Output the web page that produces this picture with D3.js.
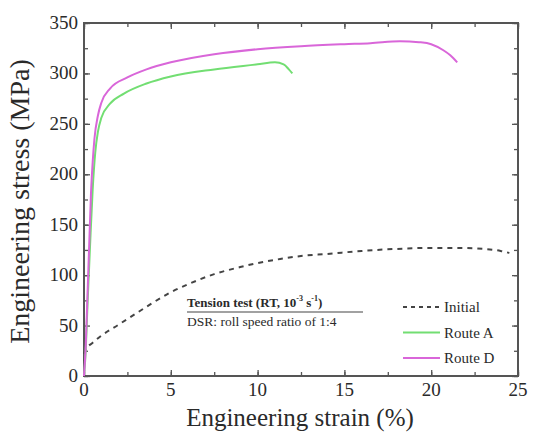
<!DOCTYPE html>
<html>
<head>
<meta charset="utf-8">
<script src="https://cdn.jsdelivr.net/npm/d3@7"></script>
<style>
  body { margin: 0; background: #fff; }
  svg { font-family: "Liberation Serif", "DejaVu Serif", serif; }
</style>
</head>
<body>
<div id="chart"></div>
<script>
// strain (%) / stress (MPa)
var initialStrain = [0, 0.1, 0.5, 1, 2, 3, 4, 5, 6, 7.5, 9, 10, 11.3, 12.5, 14, 16, 18, 20, 21.5, 23, 24, 24.5];
var initialStress = [22, 26, 33, 40, 51, 62, 73, 83, 91, 101, 108, 112, 116, 119, 121, 124, 126, 127, 127, 126, 124, 122];

var routeAStrain = [0, 0.1, 0.2, 0.35, 0.5, 0.65, 0.8, 1.0, 1.5, 2.3, 3.6, 5, 7.5, 10, 11, 11.5, 11.8, 12];
var routeAStress = [0, 25, 70, 130, 185, 222, 242, 256, 270, 280, 290, 297, 304, 309, 311, 309, 304, 300];

var routeDStrain = [0, 0.1, 0.2, 0.3, 0.4, 0.5, 0.6, 0.8, 1.0, 1.5, 2.5, 3.6, 5, 7.5, 10, 12.5, 15, 16.5, 18.2, 19.3, 20, 20.7, 21.1, 21.5];
var routeDStress = [0, 30, 80, 130, 180, 212, 235, 258, 271, 285, 296, 304, 311, 319, 324, 327, 329, 330, 332, 331, 329, 323, 318, 311];

var xTicks = [0, 5, 10, 15, 20, 25];
var yTicks = [0, 50, 100, 150, 200, 250, 300, 350];

var width = 536,
    height = 432;
var plotLeft = 84, plotRight = 518, plotTop = 23, plotBottom = 376;

var svg = d3.select('#chart')
    .append('svg')
    .attr('width', width)
    .attr('height', height);

var x = d3.scaleLinear().domain([0, 25]).range([plotLeft, plotRight]);
var y = d3.scaleLinear().domain([0, 350]).range([plotBottom, plotTop]);

var axisColor = '#555';
var textColor = '#2a2a2a';

// minor ticks every 2.5 / 25
var xMinor = d3.range(0, 25.01, 2.5);
var yMinor = d3.range(0, 350.01, 25);

function tickSet(axis, scale, values, size) {
    return axis(scale).tickValues(values).tickSize(size).tickFormat('');
}

// inward ticks on all four sides
svg.append('g').attr('transform', 'translate(0,' + plotBottom + ')')
    .call(tickSet(d3.axisTop, x, xMinor, 4));
svg.append('g').attr('transform', 'translate(0,' + plotBottom + ')')
    .call(tickSet(d3.axisTop, x, xTicks, 6));
svg.append('g').attr('transform', 'translate(0,' + plotTop + ')')
    .call(tickSet(d3.axisBottom, x, xMinor, 4));
svg.append('g').attr('transform', 'translate(0,' + plotTop + ')')
    .call(tickSet(d3.axisBottom, x, xTicks, 6));
svg.append('g').attr('transform', 'translate(' + plotLeft + ',0)')
    .call(tickSet(d3.axisRight, y, yMinor, 4));
svg.append('g').attr('transform', 'translate(' + plotLeft + ',0)')
    .call(tickSet(d3.axisRight, y, yTicks, 6));
svg.append('g').attr('transform', 'translate(' + plotRight + ',0)')
    .call(tickSet(d3.axisLeft, y, yMinor, 4));
svg.append('g').attr('transform', 'translate(' + plotRight + ',0)')
    .call(tickSet(d3.axisLeft, y, yTicks, 6));

svg.selectAll('.domain').remove();
svg.selectAll('.tick line').attr('stroke', axisColor).attr('stroke-width', 1.3);

svg.append('rect')
    .attr('x', plotLeft).attr('y', plotTop)
    .attr('width', plotRight - plotLeft).attr('height', plotBottom - plotTop)
    .attr('fill', 'none')
    .attr('stroke', axisColor)
    .attr('stroke-width', 2);

// tick labels
svg.append('g').selectAll('text')
    .data(xTicks).enter()
    .append('text')
    .attr('x', function (d) { return x(d); })
    .attr('y', plotBottom + 20)
    .attr('text-anchor', 'middle')
    .attr('font-size', 19)
    .attr('fill', textColor)
    .text(function (d) { return d; });

svg.append('g').selectAll('text')
    .data(yTicks).enter()
    .append('text')
    .attr('x', plotLeft - 6)
    .attr('y', function (d) { return y(d) + 6; })
    .attr('text-anchor', 'end')
    .attr('font-size', 19)
    .attr('fill', textColor)
    .text(function (d) { return d; });

// axis titles
svg.append('text')
    .attr('transform', 'translate(29,' + ((plotTop + plotBottom) / 2 + 2) + ') rotate(-90)')
    .attr('text-anchor', 'middle')
    .attr('font-size', 28)
    .attr('fill', textColor)
    .text('Engineering stress (MPa)');

svg.append('text')
    .attr('x', 300)
    .attr('y', 426)
    .attr('text-anchor', 'middle')
    .attr('font-size', 25)
    .attr('fill', textColor)
    .text('Engineering strain (%)');

// curves
var lineY = d3.line()
    .x(function (d) { return x(d[0]); })
    .y(function (d) { return y(d[1]); })
    .curve(d3.curveMonotoneX);

svg.append('path')
    .datum(d3.zip(initialStrain, initialStress))
    .attr('d', lineY)
    .attr('fill', 'none')
    .attr('stroke', '#444')
    .attr('stroke-width', 2)
    .attr('stroke-dasharray', '5,5');

svg.append('path')
    .datum(d3.zip(routeAStrain, routeAStress))
    .attr('d', lineY)
    .attr('fill', 'none')
    .attr('stroke', '#72de72')
    .attr('stroke-width', 2);

svg.append('path')
    .datum(d3.zip(routeDStrain, routeDStress))
    .attr('d', lineY)
    .attr('fill', 'none')
    .attr('stroke', '#d966d9')
    .attr('stroke-width', 2);

// annotation
var note = svg.append('g').attr('fill', textColor);
var t1 = note.append('text')
    .attr('x', 187).attr('y', 307)
    .attr('font-size', 13)
    .attr('font-weight', 'bold');
t1.append('tspan').text('Tension test (RT, 10');
t1.append('tspan').attr('font-size', 8).attr('dy', -6).text('-3');
t1.append('tspan').attr('dy', 6).text(' s');
t1.append('tspan').attr('font-size', 8).attr('dy', -6).text('-1');
t1.append('tspan').attr('dy', 6).text(')');

note.append('line')
    .attr('x1', 187).attr('x2', 363)
    .attr('y1', 312).attr('y2', 312)
    .attr('stroke', '#444').attr('stroke-width', 1.2);

note.append('text')
    .attr('x', 187).attr('y', 326)
    .attr('font-size', 13.5)
    .text('DSR: roll speed ratio of 1:4');

// legend
var legendNames = ['Initial', 'Route A', 'Route D'];
var legendColors = ['#444', '#72de72', '#d966d9'];
var legendDash = ['4,4', null, null];

var legend = svg.append('g').selectAll('g')
    .data(legendNames).enter()
    .append('g')
    .attr('transform', function (d, i) { return 'translate(403,' + (307 + i * 25.5) + ')'; });

legend.append('line')
    .attr('x1', 0).attr('x2', 37)
    .attr('stroke', function (d, i) { return legendColors[i]; })
    .attr('stroke-width', 2)
    .attr('stroke-dasharray', function (d, i) { return legendDash[i]; });

legend.append('text')
    .attr('x', 41).attr('y', 5)
    .attr('font-size', 15)
    .attr('fill', textColor)
    .text(function (d) { return d; });
</script>
</body>
</html>
